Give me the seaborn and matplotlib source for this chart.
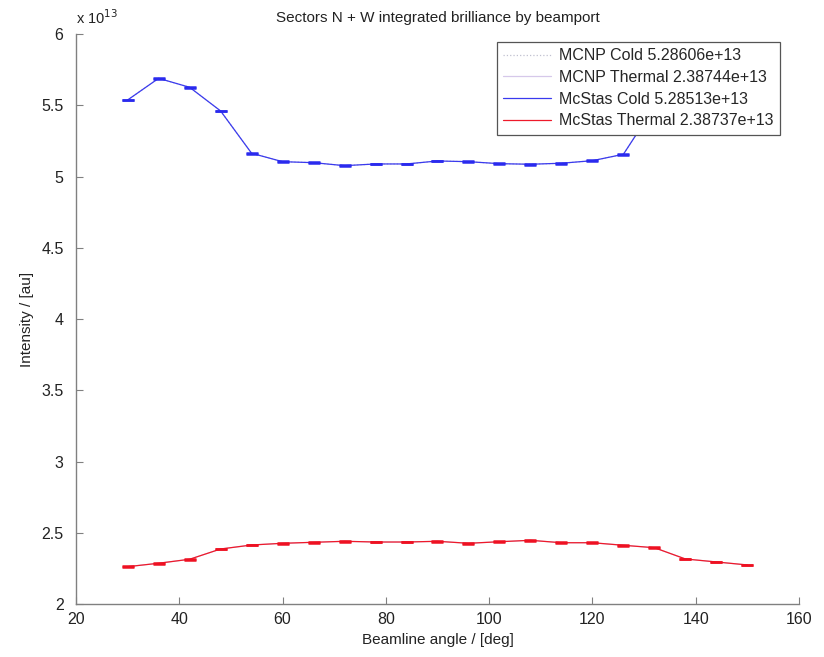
import matplotlib
matplotlib.use("Agg")
import matplotlib.pyplot as plt
import seaborn as sns
import numpy as np
import pandas as pd

# Beamline angles (deg)
angles_cold = [30, 36, 42, 48, 54, 60, 66, 72, 78, 84, 90, 96, 102, 108, 114, 120, 126, 132]
angles_thermal = [30, 36, 42, 48, 54, 60, 66, 72, 78, 84, 90, 96, 102, 108, 114, 120, 126, 132, 138, 144, 150]

# Intensities in units of 1e13
mcstas_cold = [5.537, 5.689, 5.626, 5.460, 5.163, 5.104, 5.097, 5.076, 5.088, 5.088,
               5.109, 5.104, 5.090, 5.086, 5.093, 5.111, 5.156, 5.490]
mcstas_thermal = [2.262, 2.286, 2.314, 2.386, 2.414, 2.426, 2.433, 2.440, 2.435, 2.435,
                  2.440, 2.426, 2.437, 2.447, 2.430, 2.430, 2.412, 2.395, 2.316, 2.295, 2.274]
mcnp_cold = mcstas_cold
mcnp_thermal = mcstas_thermal

labels = ["MCNP Cold 5.28606e+13", "MCNP Thermal 2.38744e+13",
          "McStas Cold 5.28513e+13", "McStas Thermal 2.38737e+13"]

sns.set_style("white")
plt.rcParams['font.family'] = ['Liberation Sans', 'DejaVu Sans']

fig = plt.figure(figsize=(8.24, 6.57), dpi=100)
ax = fig.add_axes([76/824, 53/657, 723/824, 570/657])

df_mc = pd.DataFrame({"angle": angles_cold, "val": mcnp_cold})
df_mt = pd.DataFrame({"angle": angles_thermal, "val": mcnp_thermal})
df_sc = pd.DataFrame({"angle": angles_cold, "val": mcstas_cold})
df_st = pd.DataFrame({"angle": angles_thermal, "val": mcstas_thermal})

sns.lineplot(data=df_mc, x="angle", y="val", ax=ax, color="#c0c0d0", lw=0.9,
             linestyle=":", label=labels[0])
sns.lineplot(data=df_mt, x="angle", y="val", ax=ax, color="#d6c8ea", lw=0.9,
             label=labels[1])
sns.lineplot(data=df_sc, x="angle", y="val", ax=ax, color="#3a3aee", lw=0.9,
             label=labels[2])
sns.lineplot(data=df_st, x="angle", y="val", ax=ax, color="#ee1a2a", lw=0.9,
             label=labels[3])

ax.errorbar(angles_cold, mcstas_cold, yerr=0.002, fmt="none", ecolor="#2a2aee",
            elinewidth=0.9, capsize=4.2, capthick=1.8)
ax.errorbar(angles_thermal, mcstas_thermal, yerr=0.002, fmt="none", ecolor="#ee1122",
            elinewidth=0.9, capsize=4.2, capthick=1.8)

ax.set_xlim(20, 160)
ax.set_ylim(2, 6)
ax.set_xticks(np.arange(20, 161, 20))
ax.set_yticks(np.arange(2, 6.01, 0.5))
ax.set_yticklabels(["2", "2.5", "3", "3.5", "4", "4.5", "5", "5.5", "6"])

for s in ["top", "right"]:
    ax.spines[s].set_visible(False)
for s in ["left", "bottom"]:
    ax.spines[s].set_color("#808080")
    ax.spines[s].set_linewidth(1.0)
ax.tick_params(direction="in", length=5, width=0.8, color="#808080",
               labelsize=11.5, labelcolor="#222222", left=True, bottom=True)
ax.tick_params(axis="y", pad=9)
ax.tick_params(axis="x", pad=6)

ax.set_xlabel("Beamline angle / [deg]", fontsize=11, color="#222222", labelpad=4)
ax.set_ylabel("Intensity / [au]", fontsize=11, color="#222222", labelpad=5)
ax.set_title("Sectors N + W integrated brilliance by beamport", fontsize=11,
             color="#222222", pad=9)
ax.text(0.0, 1.012, r"x 10$^{13}$", transform=ax.transAxes, fontsize=10.5,
        color="#222222", ha="left", va="bottom")

leg = ax.legend(loc="upper right", bbox_to_anchor=(0.974, 0.986), fontsize=11.5,
                frameon=True, fancybox=False, framealpha=1, edgecolor="#555555",
                handlelength=3.0, handletextpad=0.5, borderpad=0.4, labelspacing=0.42,
                borderaxespad=0)
leg.get_frame().set_linewidth(0.9)

fig.savefig("out.png", dpi=100)
